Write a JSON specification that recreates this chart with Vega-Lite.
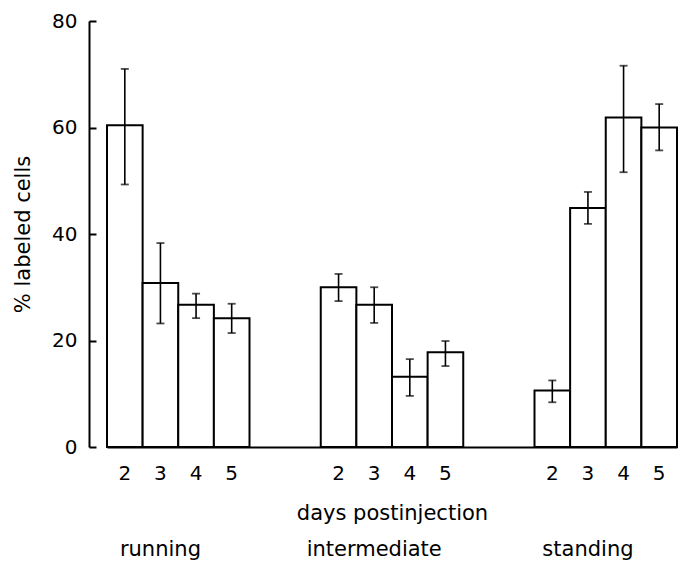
{
  "$schema": "https://vega.github.io/schema/vega-lite/v6.json",
  "autosize": "none",
  "width": 570,
  "height": 426,
  "padding": {"left": 107, "top": 21, "right": 1, "bottom": 117},
  "background": "white",
  "config": {
    "view": {"stroke": null},
    "font": "DejaVu Sans",
    "axis": {"labelFont": "DejaVu Sans", "titleFont": "DejaVu Sans", "labelColor": "black", "titleColor": "black", "titleFontWeight": "normal", "domainColor": "black", "tickColor": "black", "grid": false}
  },
  "data": {
    "values": [
      {"group": "running", "day": 2, "slot": "running-2", "pct": 60.4, "lo": 49.3, "hi": 71.0},
      {"group": "running", "day": 3, "slot": "running-3", "pct": 30.8, "lo": 23.2, "hi": 38.3},
      {"group": "running", "day": 4, "slot": "running-4", "pct": 26.7, "lo": 24.2, "hi": 28.8},
      {"group": "running", "day": 5, "slot": "running-5", "pct": 24.2, "lo": 21.4, "hi": 26.9},
      {"group": "intermediate", "day": 2, "slot": "intermediate-2", "pct": 30.0, "lo": 27.4, "hi": 32.5},
      {"group": "intermediate", "day": 3, "slot": "intermediate-3", "pct": 26.7, "lo": 23.3, "hi": 30.0},
      {"group": "intermediate", "day": 4, "slot": "intermediate-4", "pct": 13.2, "lo": 9.6, "hi": 16.5},
      {"group": "intermediate", "day": 5, "slot": "intermediate-5", "pct": 17.8, "lo": 15.2, "hi": 19.9},
      {"group": "standing", "day": 2, "slot": "standing-2", "pct": 10.6, "lo": 8.4, "hi": 12.5},
      {"group": "standing", "day": 3, "slot": "standing-3", "pct": 44.9, "lo": 41.9, "hi": 47.9},
      {"group": "standing", "day": 4, "slot": "standing-4", "pct": 61.9, "lo": 51.6, "hi": 71.6},
      {"group": "standing", "day": 5, "slot": "standing-5", "pct": 60.0, "lo": 55.7, "hi": 64.4}
    ]
  },
  "resolve": {"axis": {"x": "independent", "y": "independent"}},
  "layer": [
    {
      "mark": {"type": "bar", "fill": "white", "stroke": "black", "strokeWidth": 2},
      "encoding": {
        "x": {
          "field": "slot", "type": "nominal", "sort": null,
          "scale": {
            "domain": ["running-2", "running-3", "running-4", "running-5", "gap-1", "gap-2",
                       "intermediate-2", "intermediate-3", "intermediate-4", "intermediate-5", "gap-3", "gap-4",
                       "standing-2", "standing-3", "standing-4", "standing-5"],
            "paddingInner": 0, "paddingOuter": 0
          },
          "axis": {
            "orient": "bottom",
            "title": "days postinjection",
            "titleFontSize": 21,
            "titlePadding": 19,
            "labelExpr": "indexof(datum.value, 'gap') == 0 ? '' : split(datum.value, '-')[1]",
            "labelAngle": 0,
            "labelFontSize": 20,
            "labelPadding": 16,
            "ticks": false,
            "domainWidth": 2
          }
        },
        "y": {
          "field": "pct", "type": "quantitative",
          "scale": {"domain": [0, 80], "nice": false},
          "axis": {
            "orient": "left",
            "title": "% labeled cells",
            "titleFontSize": 21,
            "titlePadding": 18,
            "values": [0, 20, 40, 60, 80],
            "labelFontSize": 20,
            "offset": 18,
            "tickSize": -7,
            "tickWidth": 2,
            "domainWidth": 2,
            "labelPadding": 19
          }
        }
      }
    },
    {
      "mark": {"type": "rule", "stroke": "black", "strokeWidth": 1.6},
      "encoding": {
        "x": {
          "field": "slot", "type": "nominal", "sort": null,
          "axis": {
            "orient": "bottom",
            "title": null,
            "offset": 91,
            "domain": false,
            "ticks": false,
            "bandPosition": 1,
            "labelAngle": 0,
            "labelPadding": 0,
            "labelFontSize": 21,
            "labelExpr": "datum.value == 'running-3' ? 'running' : datum.value == 'intermediate-3' ? 'intermediate' : datum.value == 'standing-3' ? 'standing' : ''"
          }
        },
        "y": {"field": "lo", "type": "quantitative", "axis": null},
        "y2": {"field": "hi"}
      }
    },
    {
      "mark": {"type": "tick", "color": "black", "size": 8, "thickness": 1.8},
      "encoding": {
        "x": {"field": "slot", "type": "nominal", "sort": null, "axis": null},
        "y": {"field": "lo", "type": "quantitative", "axis": null}
      }
    },
    {
      "mark": {"type": "tick", "color": "black", "size": 8, "thickness": 1.8},
      "encoding": {
        "x": {"field": "slot", "type": "nominal", "sort": null, "axis": null},
        "y": {"field": "hi", "type": "quantitative", "axis": null}
      }
    }
  ]
}
